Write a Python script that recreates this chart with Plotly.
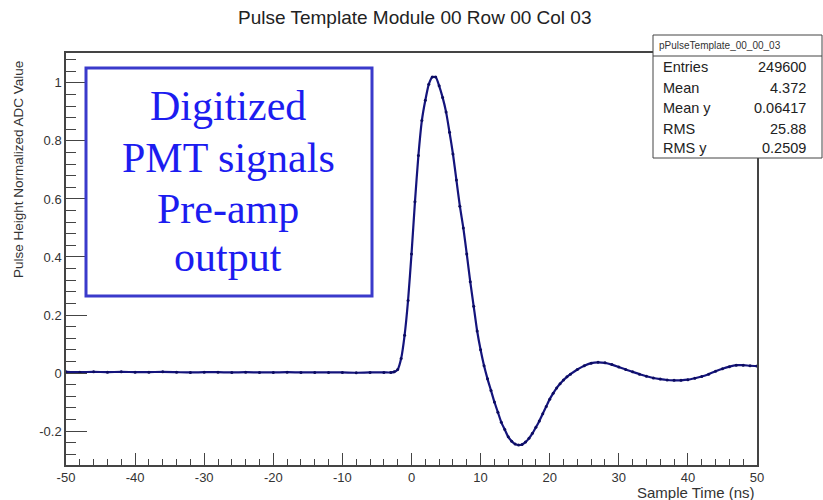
import plotly.graph_objects as go

# ---- data ----
sample_time = [-50, -48, -46, -44, -42, -40, -38, -36, -34, -32, -30, -28, -26, -24, -22, -20,
               -18, -16, -14, -12, -10, -8, -6, -4, -3, -2.5, -2, -1.5, -1, -0.5, 0, 0.5, 1, 1.5,
               2, 2.5, 3, 3.5, 4, 4.5, 5, 5.5, 6, 6.5, 7, 7.5, 8, 8.5, 9, 9.5, 10, 10.5, 11, 11.5,
               12, 12.5, 13, 13.5, 14, 14.5, 15, 15.5, 16, 16.5, 17, 17.5, 18, 18.5, 19, 19.5, 20,
               20.5, 21, 21.5, 22, 22.5, 23, 24, 25, 26, 27, 28, 29, 30, 31, 32, 33, 34, 35, 36,
               37, 38, 39, 40, 41, 42, 43, 44, 45, 46, 47, 48, 49, 50]
pulse_height = [0.004, 0.003, 0.004, 0.003, 0.004, 0.003, 0.003, 0.004, 0.003, 0.002, 0.003, 0.003,
                0.002, 0.003, 0.002, 0.002, 0.003, 0.002, 0.002, 0.002, 0.002, 0.001, 0.002, 0.002,
                0.002, 0.004, 0.012, 0.05, 0.13, 0.25, 0.41, 0.59, 0.75, 0.87, 0.94, 0.995, 1.02,
                1.02, 0.99, 0.95, 0.90, 0.83, 0.755, 0.665, 0.575, 0.50, 0.41, 0.315, 0.23, 0.145,
                0.08, 0.025, -0.02, -0.06, -0.10, -0.135, -0.17, -0.195, -0.22, -0.235, -0.245,
                -0.248, -0.246, -0.238, -0.225, -0.208, -0.187, -0.165, -0.14, -0.115, -0.09,
                -0.07, -0.052, -0.037, -0.024, -0.013, -0.004, 0.012, 0.025, 0.034, 0.037, 0.035,
                0.029, 0.021, 0.012, 0.004, -0.004, -0.011, -0.017, -0.021, -0.024, -0.025, -0.025,
                -0.023, -0.018, -0.012, -0.004, 0.006, 0.015, 0.022, 0.027, 0.027, 0.025, 0.024]

x_tick_vals = [-50, -40, -30, -20, -10, 0, 10, 20, 30, 40, 50]
x_tick_text = ["-50", "-40", "-30", "-20", "-10", "0", "10", "20", "30", "40", "50"]
y_tick_vals = [-0.2, 0, 0.2, 0.4, 0.6, 0.8, 1]
y_tick_text = ["-0.2", "0", "0.2", "0.4", "0.6", "0.8", "1"]

title_text = "Pulse Template Module 00 Row 00 Col 03"
x_title = "Sample Time (ns)"
y_title = "Pulse Height Normalized ADC Value"
stats_name = "pPulseTemplate_00_00_03"
stats_labels = ["Entries", "Mean", "Mean y", "RMS", "RMS y"]
stats_values = ["249600", "4.372", "0.06417", "25.88", "0.2509"]
box_lines = ["Digitized", "PMT signals", "Pre-amp", "output"]

# ---- layout geometry (pixels) ----
W, H = 823, 500
L, R, T, B = 66, 66, 53, 35
PW, PH = W - L - R, H - T - B


def px(x):
    return (x - L) / PW


def py(y):
    return (H - B - y) / PH


SANS = "Liberation Sans, Arial, sans-serif"

fig = go.Figure()
fig.add_trace(go.Scatter(
    x=sample_time, y=pulse_height, mode="lines+markers",
    line=dict(color="#14147c", width=2.2, shape="spline", smoothing=0.6),
    marker=dict(color="#0c0c60", size=3),
    showlegend=False, hoverinfo="x+y"))

axis_font = dict(family=SANS, size=13, color="#333")
fig.update_layout(
    width=W, height=H,
    margin=dict(l=L, r=R, t=T, b=B),
    paper_bgcolor="white", plot_bgcolor="white",
    showlegend=False,
    xaxis=dict(range=[-50, 50], tickvals=x_tick_vals, ticktext=x_tick_text,
               ticks="inside", ticklen=12,
               tickcolor="#444", tickwidth=1, showgrid=False, zeroline=False,
               showline=True, linecolor="#444", linewidth=1.5, mirror=True,
               tickfont=axis_font,
               minor=dict(dtick=2, tick0=0, ticks="inside", ticklen=6, tickcolor="#444",
                          showgrid=False)),
    yaxis=dict(range=[-0.317, 1.103], tickvals=y_tick_vals, ticktext=y_tick_text,
               ticks="inside", ticklen=21,
               tickcolor="#444", tickwidth=1, showgrid=False, zeroline=False,
               showline=True, linecolor="#444", linewidth=1.5, mirror=True,
               tickfont=axis_font,
               minor=dict(dtick=0.04, tick0=0, ticks="inside", ticklen=10, tickcolor="#444",
                          showgrid=False)),
)

ann = []
# title
ann.append(dict(text=title_text, x=px(414), y=py(18), xref="paper", yref="paper",
                showarrow=False, xanchor="center", yanchor="middle",
                font=dict(family=SANS, size=19, color="#222")))
# axis titles
ann.append(dict(text=x_title, x=px(757), y=py(492), xref="paper", yref="paper",
                showarrow=False, xanchor="right", yanchor="middle",
                font=dict(family=SANS, size=15, color="#333")))
ann.append(dict(text=y_title, x=px(18), y=py(170), xref="paper", yref="paper",
                showarrow=False, xanchor="center", yanchor="middle", textangle=-90,
                font=dict(family=SANS, size=13.5, color="#333")))

# stats box
shapes = [
    dict(type="rect", xref="paper", yref="paper", x0=px(653), x1=px(822), y0=py(158), y1=py(35),
         line=dict(color="#444", width=1), fillcolor="white", layer="above"),
    dict(type="line", xref="paper", yref="paper", x0=px(653), x1=px(822), y0=py(56), y1=py(56),
         line=dict(color="#444", width=1), layer="above"),
    # blue text box
    dict(type="rect", xref="paper", yref="paper", x0=px(86), x1=px(372), y0=py(296), y1=py(68),
         line=dict(color="#3a3acb", width=3), fillcolor="white", layer="above"),
]
ann.append(dict(text=stats_name, x=px(657), y=py(46), xref="paper", yref="paper",
                showarrow=False, xanchor="left", yanchor="middle",
                font=dict(family=SANS, size=10, color="#333")))
row_y = [67, 88, 108, 129, 148]
for lab, val, ry in zip(stats_labels, stats_values, row_y):
    ann.append(dict(text=lab, x=px(661), y=py(ry), xref="paper", yref="paper",
                    showarrow=False, xanchor="left", yanchor="middle",
                    font=dict(family=SANS, size=14.5, color="#222")))
    ann.append(dict(text=val, x=px(808), y=py(ry), xref="paper", yref="paper",
                    showarrow=False, xanchor="right", yanchor="middle",
                    font=dict(family=SANS, size=14.5, color="#222")))

line_y = [106, 158, 209, 257]
for txt, ly in zip(box_lines, line_y):
    ann.append(dict(text=txt, x=px(228), y=py(ly), xref="paper", yref="paper",
                    showarrow=False, xanchor="center", yanchor="middle",
                    font=dict(family="Liberation Serif, Times New Roman, serif", size=42,
                              color="#1c1cf0")))

fig.update_layout(annotations=ann, shapes=shapes)
fig.write_html("out.html")
